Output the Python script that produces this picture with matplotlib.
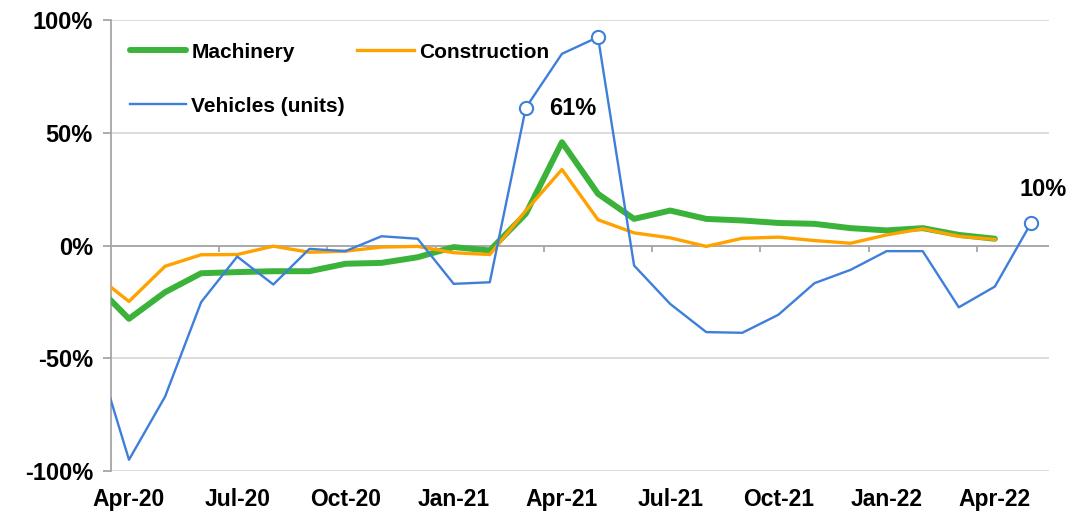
import matplotlib.pyplot as plt
import numpy as np

plt.rcParams['font.family'] = ['Liberation Sans', 'DejaVu Sans']
plt.rcParams['font.weight'] = 'bold'

# months Mar-20 .. May-22 (Mar-20 sits just left of the axis, gets clipped)
months = ["Mar-20", "Apr-20", "May-20", "Jun-20", "Jul-20", "Aug-20", "Sep-20",
          "Oct-20", "Nov-20", "Dec-20", "Jan-21", "Feb-21", "Mar-21", "Apr-21",
          "May-21", "Jun-21", "Jul-21", "Aug-21", "Sep-21", "Oct-21", "Nov-21",
          "Dec-21", "Jan-22", "Feb-22", "Mar-22", "Apr-22", "May-22"]

machinery = [-16.3, -32.5, -20.7, -12.3, -11.8, -11.4, -11.4, -8.1, -7.7, -5.2,
             -0.7, -2.2, 14.1, 45.8, 22.9, 11.8, 15.5, 11.8, 11.1, 10.0, 9.6,
             7.7, 6.7, 7.7, 4.7, 3.0]
construction = [-12.2, -24.8, -9.2, -4.1, -4.0, -0.3, -3.0, -2.5, -0.7, -0.4,
                -3.2, -4.0, 15.5, 33.7, 11.4, 5.6, 3.4, -0.4, 3.2, 3.7, 2.2,
                1.0, 4.7, 7.4, 4.1, 2.7]
vehicles = [-42.4, -95.0, -67.0, -25.1, -4.9, -17.3, -1.5, -2.5, 4.1, 3.0,
            -17.0, -16.3, 61.1, 85.0, 92.4, -8.9, -25.9, -38.4, -38.7, -30.7,
            -16.7, -10.8, -2.5, -2.5, -27.4, -18.2, 9.9]

highlight = ["Mar-21", "May-21", "May-22"]
label_tick = ["Apr-20", "Jul-20", "Oct-20", "Jan-21", "Apr-21", "Jul-21",
              "Oct-21", "Jan-22", "Apr-22"]

x = np.arange(len(months)) - 1  # Apr-20 = 0
xm = x[:len(machinery)]
xc = x[:len(construction)]

fig = plt.figure(figsize=(10.91, 5.12), dpi=100)
ax = fig.add_axes([0.1017, 0.080, 0.8598, 0.881])

grey = "#A6A6A6"
ax.set_ylim(-100, 100)
ax.set_xlim(-0.5, 25.5)
ax.set_yticks([-100, -50, 0, 50, 100])
ax.set_yticklabels(["-100%", "-50%", "0%", "50%", "100%"])
ax.yaxis.grid(True, color="#D9D9D9", lw=1.3)
ax.set_axisbelow(True)
for s in ["top", "right", "bottom"]:
    ax.spines[s].set_visible(False)
ax.spines["left"].set_color(grey)
ax.spines["left"].set_linewidth(1.3)
ax.tick_params(axis="y", colors=grey, length=6, width=1.3, labelsize=17,
               labelcolor="black", pad=7)

ax.set_xticks([months.index(m) - 1 for m in label_tick])
ax.set_xticklabels(label_tick)
ax.tick_params(axis="x", length=0, labelsize=16.5, pad=12)

# category axis at zero, with tick marks every quarter
ax.axhline(0, color=grey, lw=1.3, zorder=1)
ax.vlines(np.arange(2.5, 25, 3), -3, 0, color=grey, lw=1.3, zorder=1)

l1, = ax.plot(xm, machinery, color="#3BB33B", lw=4.3, label="Machinery",
              solid_capstyle="round", zorder=3)
l2, = ax.plot(xc, construction, color="#FFA200", lw=2.4, label="Construction", zorder=4)
l3, = ax.plot(x, vehicles, color="#3E7FDA", lw=1.7, label="Vehicles (units)", zorder=5)

hi = [months.index(m) for m in highlight]
ax.plot(x[hi], np.array(vehicles)[hi], "o", ms=9.5, mfc="white", mec="#3E7FDA",
        mew=1.5, zorder=6, clip_on=False)

ax.annotate("61%", (x[hi[0]], vehicles[hi[0]]), xytext=(47, -1),
            textcoords="offset pixels", ha="center", va="center", fontsize=17)
ax.annotate("10%", (x[hi[2]], vehicles[hi[2]]), xytext=(12, 34),
            textcoords="offset pixels", ha="center", va="center", fontsize=17)

# order so that the two-column legend reads row by row
leg = ax.legend([l1, l3, l2], ["Machinery", "Vehicles (units)", "Construction"],
                loc="upper left", ncol=2, frameon=False, fontsize=15,
                handlelength=2.7, columnspacing=0.6, handletextpad=0.25,
                labelspacing=1.68, borderaxespad=0, borderpad=0,
                bbox_to_anchor=(0.02, 0.95))

fig.savefig("out.png", dpi=100)
